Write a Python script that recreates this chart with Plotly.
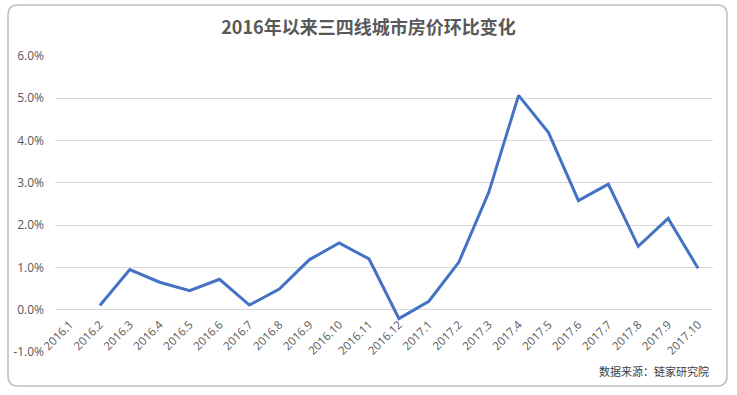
import plotly.graph_objects as go

categories = ["2016.1", "2016.2", "2016.3", "2016.4", "2016.5", "2016.6", "2016.7",
              "2016.8", "2016.9", "2016.10", "2016.11", "2016.12", "2017.1", "2017.2",
              "2017.3", "2017.4", "2017.5", "2017.6", "2017.7", "2017.8", "2017.9", "2017.10"]
values = [None, 0.10, 0.95, 0.65, 0.45, 0.72, 0.11, 0.49, 1.18, 1.58, 1.20, -0.21,
          0.20, 1.12, 2.77, 5.07, 4.19, 2.58, 2.97, 1.50, 2.16, 0.98]
y_ticks = [-1, 0, 1, 2, 3, 4, 5, 6]
y_tick_labels = ["-1.0%", "0.0%", "1.0%", "2.0%", "3.0%", "4.0%", "5.0%", "6.0%"]
title = "2016年以来三四线城市房价环比变化"
source = "数据来源：链家研究院"

W, H = 737, 395
L, R, T, B = 55, 24, 56, 43
pw, ph = W - L - R, H - T - B

def px(x):
    return (x - L) / pw

def py(y):
    return (H - B - y) / ph

fig = go.Figure()
fig.add_trace(go.Scatter(
    x=categories, y=values, mode="lines",
    line=dict(color="#4472C4", width=3),
    connectgaps=False, hoverinfo="x+y",
))

# rounded chart border
x0, x1, y0, y1 = px(8), px(727), py(386), py(5)
rx, ry = 10 / pw, 10 / ph
path = (f"M {x0+rx},{y1} L {x1-rx},{y1} Q {x1},{y1} {x1},{y1-ry} "
        f"L {x1},{y0+ry} Q {x1},{y0} {x1-rx},{y0} L {x0+rx},{y0} "
        f"Q {x0},{y0} {x0},{y0+ry} L {x0},{y1-ry} Q {x0},{y1} {x0+rx},{y1} Z")

fig.update_layout(
    width=W, height=H,
    margin=dict(l=L, r=R, t=T, b=B),
    paper_bgcolor="#ffffff", plot_bgcolor="#ffffff",
    showlegend=False,
    title=dict(text=f"<b>{title}</b>", x=0.5, xref="container", xanchor="center",
               y=1 - 28 / H, yref="container", yanchor="middle",
               font=dict(family="Noto Sans CJK SC", size=18, color="#595959")),
    xaxis=dict(
        type="category", categoryorder="array", categoryarray=categories,
        range=[-0.5, len(categories) - 0.5],
        anchor="free", position=1 / 7,
        tickangle=-45, showgrid=False, showline=False, zeroline=False,
        ticks="", ticklabelstandoff=5,
        tickfont=dict(family="Open Sans", size=11.5, color="#595959"),
    ),
    yaxis=dict(
        range=[-1, 6], tickvals=y_ticks, ticktext=y_tick_labels,
        showgrid=True, gridcolor="#d9d9d9", gridwidth=1, zeroline=False,
        showline=False, ticks="", ticklabelstandoff=10,
        tickfont=dict(family="Open Sans", size=12, color="#595959"),
    ),
    shapes=[dict(type="path", path=path, xref="paper", yref="paper",
                 line=dict(color="#bfbfbf", width=1.5), layer="below")],
    annotations=[dict(text=source, xref="paper", yref="paper", x=px(711), y=py(371),
                      xanchor="right", yanchor="middle", showarrow=False,
                      font=dict(family="Noto Sans CJK SC", size=11, color="#404040"))],
)

fig.write_html("out.html", config={"displayModeBar": False},
               post_script="document.body.style.margin='0px';")
